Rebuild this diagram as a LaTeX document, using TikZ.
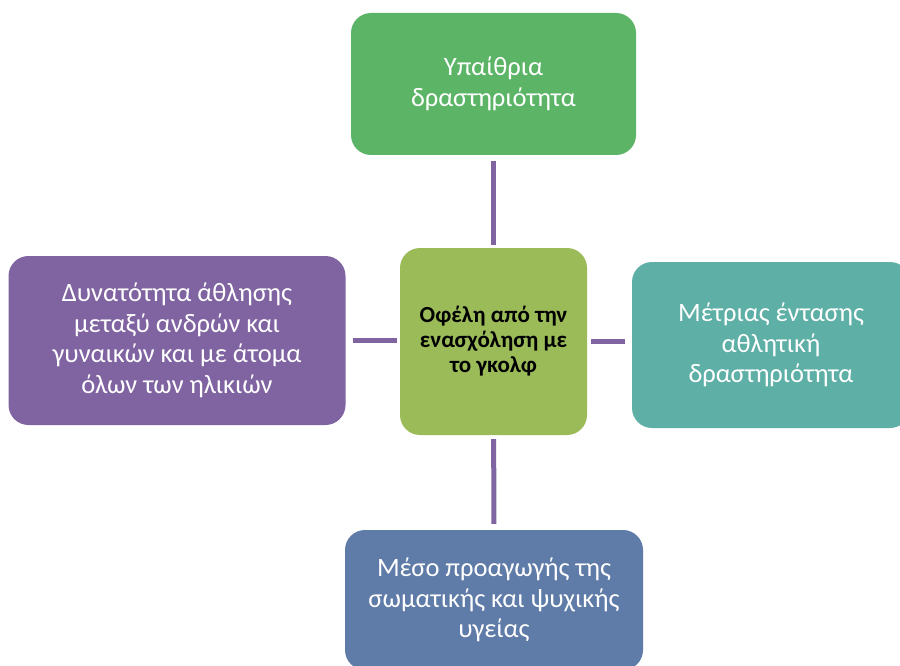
\documentclass[tikz,border=0pt]{standalone}
\usepackage{fontspec}
\setmainfont{Carlito}
\usepackage{xcolor}
\usepackage{tikz}
\usetikzlibrary{positioning}
\definecolor{outdoorgreen}{HTML}{5CB567}
\definecolor{hubolive}{HTML}{9BBB59}
\definecolor{peoplepurple}{HTML}{8064A2}
\definecolor{effortteal}{HTML}{5EAFA6}
\definecolor{healthblue}{HTML}{5F7BA8}
\tikzset{
    topic/.style={rectangle, rounded corners=20pt, fill=#1, text=white, align=center, inner sep=0pt, font=\fontsize{26.5}{30.5}\selectfont},
    hub/.style={rectangle, rounded corners=20pt, fill=hubolive, text=black, align=center, inner sep=0pt, minimum width=187pt, minimum height=187pt, font=\bfseries\fontsize{23}{25}\selectfont},
    link/.style={draw=peoplepurple, line width=5pt}
}

\begin{document}
\begin{tikzpicture}[x=1pt, y=-1pt]
            \clip (0,0) rectangle (900,666);
            \fill[white] (0,0) rectangle (900,666);
            \node (golf) [hub] at (493.5,341.5) {Οφέλη από την\\ενασχόληση με\\το γκολφ};
            \node (outdoor) [topic=outdoorgreen, minimum width=285pt, minimum height=142pt] at (493.5,84) {Υπαίθρια\\δραστηριότητα};
            \node (people) [topic=peoplepurple, minimum width=337pt, minimum height=169pt] at (177,340.5) {Δυνατότητα άθλησης\\μεταξύ ανδρών και\\γυναικών και με άτομα\\όλων των ηλικιών};
            \node (effort) [topic=effortteal, minimum width=278pt, minimum height=166pt] at (771,345) {Μέτριας έντασης\\αθλητική\\δραστηριότητα};
            \node (health) [topic=healthblue, minimum width=298pt, minimum height=140pt] at (494,600) {Μέσο προαγωγής της\\σωματικής και ψυχικής\\υγείας};

            \draw[link, shorten <=6pt, shorten >=3pt] (outdoor) -- (golf);
            \draw[link, shorten <=7pt, shorten >=3pt] (people.east) -- (golf.west |- people.east);
            \draw[link, shorten <=4pt, shorten >=7pt] (golf.east) -- (effort.west |- golf.east);
            \draw[link, shorten <=4pt, shorten >=6pt] (golf) -- (health);
        \end{tikzpicture}
\end{document}
